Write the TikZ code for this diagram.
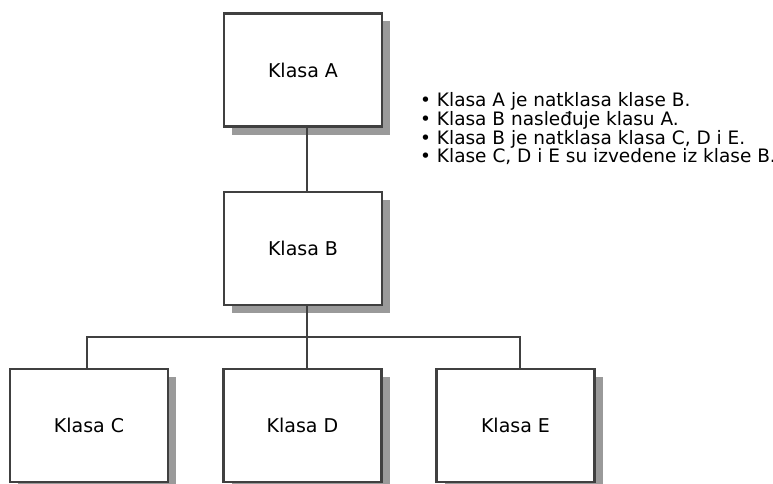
\documentclass[tikz,border=0pt]{standalone}
\usepackage{fontspec}
\setmainfont{DejaVu Sans}
\usetikzlibrary{shadows}
\definecolor{edge}{HTML}{404040}
\definecolor{shade}{HTML}{9A9A9A}
\begin{document}
\begin{tikzpicture}[x=1pt,y=-1pt,
  classbox/.style={draw=edge, line width=2.4pt, fill=white,
    minimum width=158pt, minimum height=113pt, inner sep=0pt,
    font=\fontsize{19}{20}\selectfont,
    drop shadow={shadow xshift=8pt, shadow yshift=-8pt, fill=shade, opacity=1}},
  link/.style={draw=edge, line width=2pt}]
\useasboundingbox (0,0) rectangle (773,484);
\clip (0,0) rectangle (773,484);

% class boxes
\node[classbox] (A) at (303,70) {Klasa A};
\node[classbox] (B) at (303,248.5) {Klasa B};
\node[classbox] (C) at (89,425.5) {Klasa C};
\node[classbox] (D) at (302.5,425.5) {Klasa D};
\node[classbox] (E) at (515.5,425.5) {Klasa E};

% inheritance links
\coordinate (bar) at (307,337);
\draw[link] ([xshift=4pt]A.south) -- ([xshift=4pt]B.north);
\draw[link] ([xshift=4pt]B.south) -- (bar);
\draw[link] ([xshift=-2pt]C.north) |- (bar) -| ([xshift=4.5pt]E.north);
\draw[link] (bar) -- ([xshift=4.5pt]D.north);

% description
\node[anchor=north west, inner sep=0pt, align=left,
  font=\fontsize{18.5}{18.7}\selectfont] (notes) at (420,92.5) {%
  \textbullet\ Klasa A je natklasa klase B.\\
  \textbullet\ Klasa B nasleđuje klasu A.\\
  \textbullet\ Klasa B je natklasa klasa C, D i E.\\
  \textbullet\ Klase C, D i E su izvedene iz klase B.};
\end{tikzpicture}
\end{document}
